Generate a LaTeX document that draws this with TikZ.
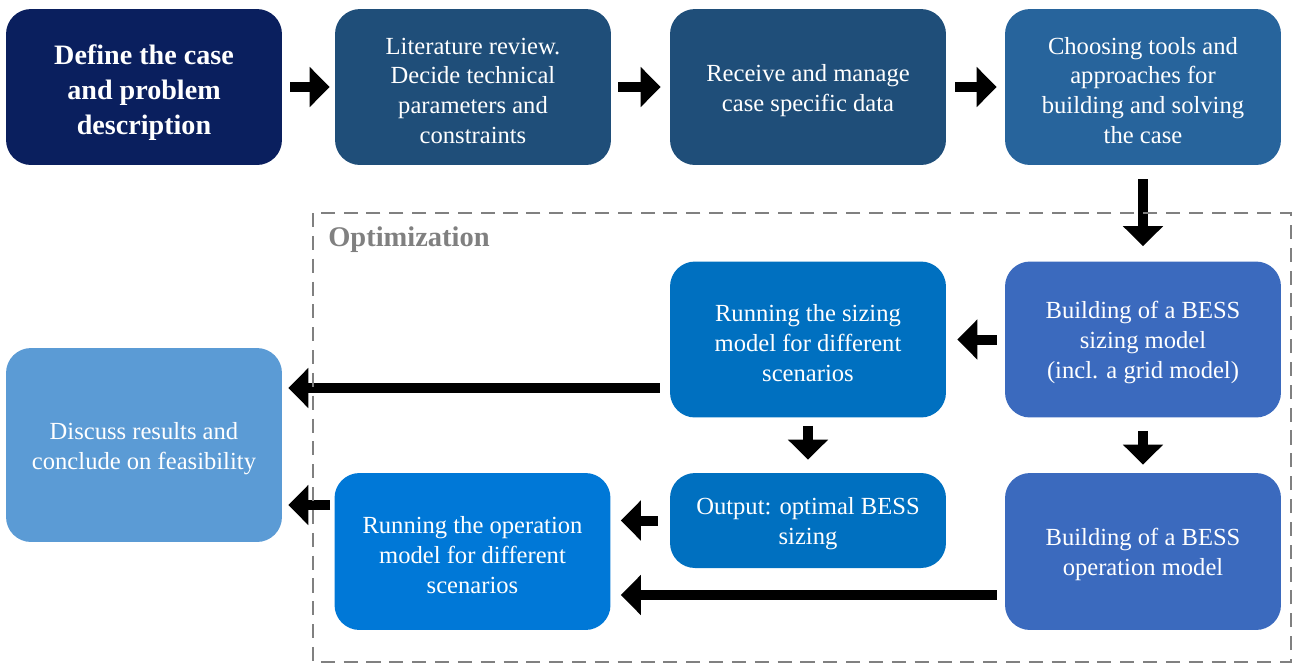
\documentclass[tikz,border=0pt]{standalone}
\usepackage{fontspec}
\setmainfont{Liberation Serif}
\usetikzlibrary{arrows.meta}

\definecolor{navyCase}{HTML}{0A1F5E}
\definecolor{darkStep}{HTML}{1F4E79}
\definecolor{toolStep}{HTML}{27649C}
\definecolor{modelStep}{HTML}{3B6ABE}
\definecolor{runStep}{HTML}{0070C0}
\definecolor{opStep}{HTML}{0078D7}
\definecolor{resultStep}{HTML}{5B9BD5}
\definecolor{optiGrey}{HTML}{808080}

% taller first line, pushes the text a bit down in the box
\newcommand{\stepstrut}{\rule{0pt}{13.6pt}}
\newcommand{\titlestrut}{\rule{0pt}{17.6pt}}

\begin{document}
\begin{tikzpicture}[x=0.02cm,y=-0.02cm,
stepbox/.style = {rounded corners=0.5cm, minimum width=5.52cm,
        minimum height=3.12cm, inner sep=0pt, align=center,
        text=white, font=\fontsize{14}{17}\selectfont},
titlebox/.style = {stepbox, font=\fontsize{16}{19.9}\selectfont\bfseries},
flow/.style = {line width=0.2cm,
        -{Triangle[width=0.78cm,length=0.4cm]}},
optibox/.style = {draw=optiGrey, line width=1.1pt,
        dash pattern=on 8pt off 5pt}]

        \useasboundingbox (0,0) rectangle (1292,664);

        % top row
        \node[titlebox,fill=navyCase] (case) at (144,87)
            {\titlestrut Define the case\\and problem\\description};
        \node[stepbox,fill=darkStep] (litrev) at (473,87)
            {\stepstrut Literature review.\\Decide technical\\parameters and\\constraints};
        \node[stepbox,fill=darkStep] (data) at (808,87)
            {\stepstrut Receive and manage\\case specific data};
        \node[stepbox,fill=toolStep] (tools) at (1143,87)
            {\stepstrut Choosing tools and\\approaches for\\building and solving\\the case};

        % optimization part
        \node[stepbox,fill=modelStep] (sizemodel) at (1143,339.5)
            {\stepstrut Building of a BESS\\sizing model\\(incl. a grid model)};
        \node[stepbox,fill=runStep] (sizerun) at (808,339.5)
            {\stepstrut Running the sizing\\model for different\\scenarios};
        \node[stepbox,fill=runStep,minimum height=1.9cm] (output) at (808,520.5)
            {\stepstrut Output: optimal BESS\\sizing};
        \node[stepbox,fill=modelStep,minimum height=3.14cm] (opmodel) at (1143,551.5)
            {\stepstrut Building of a BESS\\operation model};
        \node[stepbox,fill=opStep,minimum height=3.14cm] (oprun) at (472.5,551.5)
            {\stepstrut Running the operation\\model for different\\scenarios};
        \node[stepbox,fill=resultStep,minimum height=3.88cm] (discuss) at (144,445)
            {\stepstrut Discuss results and\\conclude on feasibility};

        % arrows
        \draw[flow,shorten <=0.16cm,shorten >=0.1cm] (case) -- (litrev);
        \draw[flow,shorten <=0.14cm,shorten >=0.18cm] (litrev) -- (data);
        \draw[flow,shorten <=0.18cm,shorten >=0.16cm] (data) -- (tools);
        \draw[flow,shorten <=0.28cm,shorten >=0.3cm] (tools) -- (sizemodel);
        \draw[flow,shorten <=0.16cm,shorten >=0.22cm] (sizemodel) -- (sizerun);
        \draw[flow,shorten <=0.2cm,shorten >=0.12cm]
            ([yshift=-0.97cm]sizerun.west) -- ([yshift=-0.97cm]sizerun.west -| discuss.east);
        \draw[flow,shorten <=0.16cm,shorten >=0.26cm] (sizerun) -- (output);
        \draw[flow,shorten <=0.26cm,shorten >=0.16cm] (sizemodel) -- (opmodel);
        \draw[flow,shorten <=0.24cm,shorten >=0.2cm] (output.west) -- (output.west -| oprun.east);
        \draw[flow,shorten <=0.16cm,shorten >=0.2cm]
            ([yshift=-0.87cm]opmodel.west) -- ([yshift=-0.87cm]opmodel.west -| oprun.east);
        \draw[flow,shorten <=0.08cm,shorten >=0.12cm]
            ([yshift=0.93cm]oprun.west) -- ([yshift=0.93cm]oprun.west -| discuss.east);

        % optimization frame
        \draw[optibox] (313,213) rectangle (1291,662);
        \node[anchor=base west,inner sep=0pt,text=optiGrey,
            font=\fontsize{16.2}{20}\selectfont\bfseries]
            (optilabel) at (328,246) {Optimization};

    \end{tikzpicture}
\end{document}
